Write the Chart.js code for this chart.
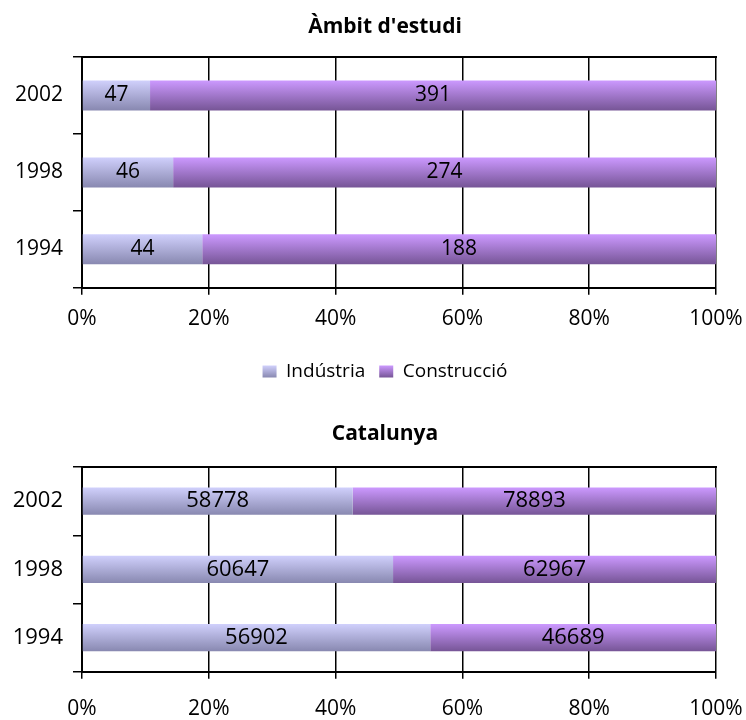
<!DOCTYPE html>
<html lang="ca">
<head>
<meta charset="utf-8">
<title>Indústria i construcció</title>
<script src="https://cdn.jsdelivr.net/npm/chart.js@4.4.1/dist/chart.umd.min.js"></script>
<style>
  html, body { margin: 0; padding: 0; background: #fff; overflow: hidden; }
  .box { position: relative; width: 746px; }
  #ambitBox { height: 391px; }
  #catBox { height: 329px; }
</style>
</head>
<body>
<div class="box" id="ambitBox"><canvas id="ambitChart"></canvas></div>
<div class="box" id="catBox"><canvas id="catChart"></canvas></div>
<script>
// dades llegides del gràfic
const years = ['2002', '1998', '1994'];
const seriesNames = ['Indústria', 'Construcció'];
const ambitIndustria = [47, 46, 44];
const ambitConstruccio = [391, 274, 188];
const catIndustria = [58778, 60647, 56902];
const catConstruccio = [78893, 62967, 46689];
const percentTicks = [0, 20, 40, 60, 80, 100];

const industriaStops = ['#d0d0fc', '#8888b0'];
const construccioStops = ['#cc99ff', '#765596'];

Chart.defaults.font.family = "'Open Sans', sans-serif";
Chart.defaults.color = '#000';

function shares(part, other) {
    return part.map(function (v, i) { return v / (v + other[i]) * 100; });
}

// degradat vertical per a cada barra, a partir de l'escala y
function barFill(stops, barPct) {
    return function (ctx) {
        const chart = ctx.chart;
        const y = chart.scales && chart.scales.y;
        if (!y || ctx.dataIndex === undefined) return stops[1];
        const c = y.getPixelForValue(ctx.dataIndex);
        const step = Math.abs(y.getPixelForValue(1) - y.getPixelForValue(0));
        const half = step * barPct / 2;
        if (!isFinite(c) || !isFinite(half) || half <= 0) return stops[1];
        const g = chart.ctx.createLinearGradient(0, c - half, 0, c + half);
        g.addColorStop(0, stops[0]);
        g.addColorStop(1, stops[1]);
        return g;
    };
}

const barCounts = {
    id: 'barCounts',
    afterDatasetsDraw(chart, args, opts) {
        const ctx = chart.ctx;
        ctx.save();
        ctx.font = opts.size + "px 'Open Sans', sans-serif";
        ctx.fillStyle = '#000';
        ctx.textAlign = 'center';
        ctx.textBaseline = 'middle';
        chart.data.datasets.forEach(function (ds, di) {
            chart.getDatasetMeta(di).data.forEach(function (bar, i) {
                ctx.fillText(String(ds.counts[i]), (bar.x + bar.base) / 2, bar.y);
            });
        });
        ctx.restore();
    }
};

const topEdge = {
    id: 'topEdge',
    afterDatasetsDraw(chart) {
        const a = chart.chartArea;
        const ctx = chart.ctx;
        ctx.save();
        ctx.strokeStyle = '#000';
        ctx.lineWidth = 2;
        ctx.beginPath();
        ctx.moveTo(a.left - 1, a.top);
        ctx.lineTo(a.right + 1, a.top);
        ctx.stroke();
        ctx.restore();
    }
};

const legendFill = {
    id: 'legendFill',
    beforeDraw(chart) {
        const lg = chart.legend;
        if (!lg || !lg.options.display || !lg.legendItems) return;
        lg.legendItems.forEach(function (item, i) {
            const box = lg.legendHitBoxes[i];
            const stops = chart.data.datasets[item.datasetIndex].stops;
            const top = box.top + (box.height - 12) / 2;
            const g = chart.ctx.createLinearGradient(0, top, 0, top + 12);
            g.addColorStop(0, stops[0]);
            g.addColorStop(1, stops[1]);
            item.fillStyle = g;
        });
    }
};

function makeChart(id, cfg) {
    const canvas = document.getElementById(id);
    if (!canvas) {
        console.warn('No trobo #' + id);
        return;
    }
    new Chart(canvas.getContext('2d'), {
        type: 'bar',
        data: {
            labels: years,
            datasets: [{
                label: seriesNames[0],
                data: shares(cfg.ind, cfg.con),
                counts: cfg.ind,
                stops: industriaStops,
                backgroundColor: barFill(industriaStops, cfg.barPct),
                borderWidth: 0,
                categoryPercentage: 1,
                barPercentage: cfg.barPct
            }, {
                label: seriesNames[1],
                data: shares(cfg.con, cfg.ind),
                counts: cfg.con,
                stops: construccioStops,
                backgroundColor: barFill(construccioStops, cfg.barPct),
                borderWidth: 0,
                categoryPercentage: 1,
                barPercentage: cfg.barPct
            }]
        },
        options: {
            indexAxis: 'y',
            responsive: true,
            maintainAspectRatio: false,
            animation: false,
            // el títol i la llegenda queden centrats una mica a la dreta
            layout: { padding: { left: 0, right: -24, top: 0, bottom: 0 } },
            plugins: {
                title: {
                    display: true,
                    text: cfg.title,
                    color: '#000',
                    font: { size: cfg.titleSize, weight: 'bold' },
                    padding: cfg.titlePad
                },
                legend: {
                    display: cfg.legend,
                    position: 'bottom',
                    labels: {
                        boxWidth: 14,
                        boxHeight: 12,
                        padding: 14,
                        color: '#000',
                        font: { size: 19 }
                    }
                },
                tooltip: { enabled: false },
                barCounts: { size: cfg.labelSize }
            },
            scales: {
                x: {
                    stacked: true,
                    min: 0,
                    max: 100,
                    afterBuildTicks: function (s) {
                        s.ticks = percentTicks.map(function (v) { return { value: v }; });
                    },
                    afterFit: function (s) {
                        s.height += cfg.xExtra;
                        s.paddingRight = 0;
                    },
                    grid: { color: '#000', lineWidth: 1.5, tickLength: 7 },
                    border: { color: '#000', width: 2 },
                    ticks: {
                        padding: cfg.xPad,
                        font: { size: 21 },
                        callback: function (v) { return v + '%'; }
                    }
                },
                y: {
                    stacked: true,
                    afterFit: function (s) { s.width = 82; },
                    grid: { drawOnChartArea: false, color: '#000', lineWidth: 1.5, tickLength: 9 },
                    border: { color: '#000', width: 2 },
                    ticks: { padding: 10, font: { size: cfg.labelSize } }
                },
                // eix buit a la dreta, només reserva espai
                edge: {
                    type: 'linear',
                    position: 'right',
                    grid: { display: false },
                    border: { display: false },
                    ticks: { display: false },
                    afterFit: function (s) { s.width = 54; }
                }
            }
        },
        plugins: [barCounts, topEdge, legendFill]
    });
}

document.addEventListener('DOMContentLoaded', function () {
    makeChart('ambitChart', {
        title: "Àmbit d'estudi",
        titleSize: 21,
        titlePad: { top: 14, bottom: 17.8 },
        ind: ambitIndustria,
        con: ambitConstruccio,
        barPct: 0.39,
        labelSize: 21,
        xPad: 12,
        xExtra: 4,
        legend: true
    });

    makeChart('catChart', {
        title: 'Catalunya',
        titleSize: 21,
        titlePad: { top: 30, bottom: 20.8 },
        ind: catIndustria,
        con: catConstruccio,
        barPct: 0.40,
        labelSize: 22,
        xPad: 18,
        xExtra: -20,
        legend: false
    });
});
</script>
</body>
</html>
